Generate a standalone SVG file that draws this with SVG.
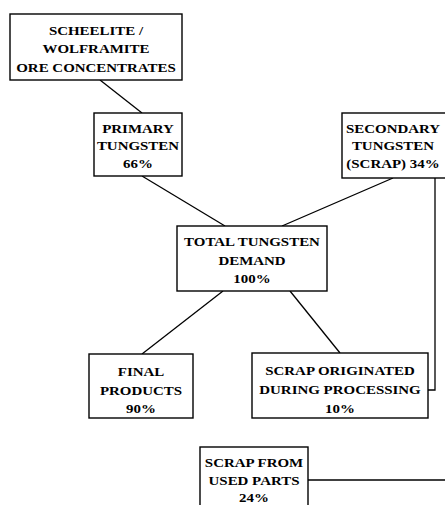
<svg xmlns="http://www.w3.org/2000/svg" width="445" height="505" viewBox="0 0 445 505">
<style>
.box{fill:#fff;stroke:#000;stroke-width:1.4}
.t{font-family:"Liberation Serif","Times New Roman",serif;font-weight:bold;font-size:13px;fill:#000;text-anchor:middle}
.c{fill:none;stroke:#000;stroke-width:1.3}
</style>
<rect width="445" height="505" fill="#fff"/>
<g id="connectors">
<line class="c" x1="100" y1="80" x2="142" y2="113"/>
<line class="c" x1="142" y1="176" x2="225" y2="226"/>
<line class="c" x1="393" y1="178" x2="282" y2="226"/>
<line class="c" x1="223" y1="291" x2="142" y2="354"/>
<line class="c" x1="290" y1="291" x2="340" y2="353"/>
<polyline class="c" points="435,178 435,390 428,390"/>
<line class="c" x1="308" y1="480" x2="445" y2="480"/>
</g>
<g id="scheelite">
<rect class="box" x="10" y="14" width="172" height="66"/>
<text class="t" transform="translate(96,35) scale(1.15,1)">SCHEELITE /</text>
<text class="t" transform="translate(96,53) scale(1.15,1)">WOLFRAMITE</text>
<text class="t" transform="translate(96,72) scale(1.15,1)">ORE CONCENTRATES</text>
</g>
<g id="primary">
<rect class="box" x="94" y="113" width="88" height="63"/>
<text class="t" transform="translate(138,133) scale(1.15,1)">PRIMARY</text>
<text class="t" transform="translate(138,150) scale(1.15,1)">TUNGSTEN</text>
<text class="t" transform="translate(138,168) scale(1.15,1)">66%</text>
</g>
<g id="secondary">
<rect class="box" x="342" y="113" width="106" height="65"/>
<text class="t" transform="translate(393,133) scale(1.15,1)">SECONDARY</text>
<text class="t" transform="translate(393,150) scale(1.15,1)">TUNGSTEN</text>
<text class="t" transform="translate(393,168) scale(1.15,1)">(SCRAP) 34%</text>
</g>
<g id="total">
<rect class="box" x="177" y="226" width="150" height="65"/>
<text class="t" transform="translate(252,246) scale(1.15,1)">TOTAL TUNGSTEN</text>
<text class="t" transform="translate(252,265) scale(1.15,1)">DEMAND</text>
<text class="t" transform="translate(252,283) scale(1.15,1)">100%</text>
</g>
<g id="final">
<rect class="box" x="89" y="354" width="104" height="64"/>
<text class="t" transform="translate(141,376) scale(1.15,1)">FINAL</text>
<text class="t" transform="translate(141,395) scale(1.15,1)">PRODUCTS</text>
<text class="t" transform="translate(141,413) scale(1.15,1)">90%</text>
</g>
<g id="scrap-processing">
<rect class="box" x="252" y="353" width="176" height="65"/>
<text class="t" transform="translate(340,375) scale(1.15,1)">SCRAP ORIGINATED</text>
<text class="t" transform="translate(340,394) scale(1.15,1)">DURING PROCESSING</text>
<text class="t" transform="translate(340,413) scale(1.15,1)">10%</text>
</g>
<g id="scrap-used">
<rect class="box" x="200" y="447" width="108" height="64"/>
<text class="t" transform="translate(254,467) scale(1.15,1)">SCRAP FROM</text>
<text class="t" transform="translate(254,485) scale(1.15,1)">USED PARTS</text>
<text class="t" transform="translate(254,502) scale(1.15,1)">24%</text>
</g>
</svg>
